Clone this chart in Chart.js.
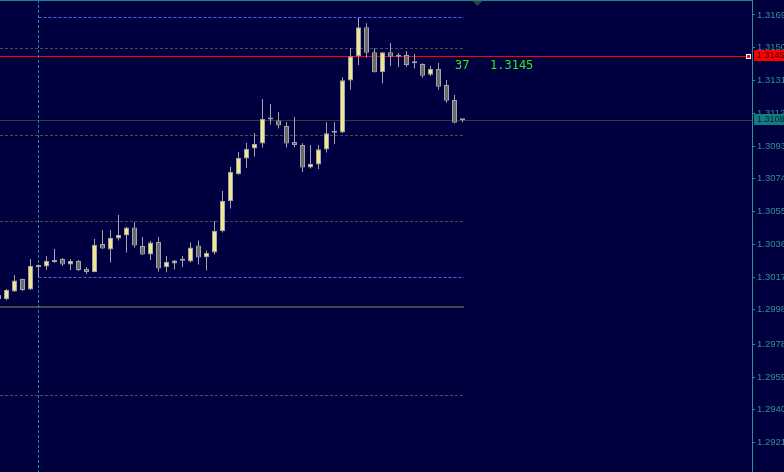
<!DOCTYPE html>
<html>
<head>
<meta charset="utf-8">
<script src="https://cdn.jsdelivr.net/npm/chart.js@4.4.0/dist/chart.umd.min.js"></script>
<style>
  html, body { margin: 0; padding: 0; background: #000040; overflow: hidden; }
  canvas { display: block; }
</style>
</head>
<body>
<canvas id="chart" width="784" height="472"></canvas>
<script>
// bar index of the first candle (the one cut at the left edge)
const firstBar = -1;
const opens = [
  1.30066, 1.30043, 1.30086, 1.30159, 1.30098, 1.30226, 1.30231, 1.30267, 1.30275, 1.30243,
  1.30263, 1.30217, 1.30199, 1.30362, 1.30330, 1.30394, 1.30411, 1.30458, 1.30350, 1.30301,
  1.30373, 1.30226, 1.30249, 1.30266, 1.30260, 1.30353, 1.30285, 1.30313, 1.30437, 1.30611,
  1.30768, 1.30858, 1.30916, 1.30945, 1.31084, 1.31078, 1.31046, 1.30953, 1.30936, 1.30806,
  1.30823, 1.30910, 1.31007, 1.31009, 1.31310, 1.31450, 1.31619, 1.31474, 1.31358, 1.31474,
  1.31456, 1.31458, 1.31410, 1.31406, 1.31344, 1.31377, 1.31284, 1.31197, 1.31080
];
const highs = [
  1.30072, 1.30101, 1.30182, 1.30162, 1.30275, 1.30243, 1.30292, 1.30333, 1.30281, 1.30275,
  1.30269, 1.30228, 1.30391, 1.30443, 1.30443, 1.30530, 1.30461, 1.30489, 1.30402, 1.30379,
  1.30402, 1.30292, 1.30269, 1.30292, 1.30371, 1.30382, 1.30324, 1.30495, 1.30669, 1.30808,
  1.30895, 1.30948, 1.31006, 1.31203, 1.31174, 1.31127, 1.31069, 1.31098, 1.30946, 1.30936,
  1.30936, 1.31068, 1.31068, 1.31329, 1.31499, 1.31677, 1.31642, 1.31497, 1.31476, 1.31528,
  1.31470, 1.31481, 1.31464, 1.31410, 1.31394, 1.31412, 1.31313, 1.31226, 1.31085
];
const lows = [
  1.30037, 1.30037, 1.30083, 1.30089, 1.30095, 1.30170, 1.30211, 1.30252, 1.30234, 1.30211,
  1.30205, 1.30188, 1.30197, 1.30333, 1.30255, 1.30382, 1.30313, 1.30342, 1.30298, 1.30269,
  1.30202, 1.30197, 1.30214, 1.30228, 1.30255, 1.30243, 1.30208, 1.30301, 1.30429, 1.30568,
  1.30765, 1.30803, 1.30869, 1.30922, 1.31055, 1.31032, 1.30922, 1.30923, 1.30779, 1.30800,
  1.30797, 1.30893, 1.30942, 1.31006, 1.31257, 1.31400, 1.31442, 1.31357, 1.31294, 1.31392,
  1.31388, 1.31390, 1.31379, 1.31326, 1.31336, 1.31257, 1.31181, 1.31062, 1.31068
];
const closes = [
  1.30043, 1.30095, 1.30150, 1.30095, 1.30234, 1.30240, 1.30263, 1.30257, 1.30243, 1.30263,
  1.30211, 1.30199, 1.30356, 1.30336, 1.30397, 1.30414, 1.30458, 1.30353, 1.30301, 1.30371,
  1.30220, 1.30257, 1.30266, 1.30264, 1.30342, 1.30284, 1.30310, 1.30437, 1.30611, 1.30779,
  1.30861, 1.30913, 1.30942, 1.31087, 1.31084, 1.31049, 1.30945, 1.30936, 1.30806, 1.30826,
  1.30911, 1.31004, 1.31007, 1.31311, 1.31450, 1.31619, 1.31471, 1.31358, 1.31474, 1.31448,
  1.31448, 1.31400, 1.31410, 1.31338, 1.31377, 1.31274, 1.31193, 1.31065, 1.31080
];

const yTickLabels = ['1.3169', '1.3150', '1.3131', '1.3112', '1.3093', '1.3074', '1.3055',
  '1.3036', '1.3017', '1.2998', '1.2978', '1.2959', '1.2940', '1.2921'];

const roundLevels = [1.31499, 1.30994, 1.30495, 1.29484]; // dashed grey
const solidLevel = 1.29994;
const dayHigh = 1.31678;
const dayLow = 1.30170;
const daySeparatorBar = 4;
const askPrice = 1.3145;
const bidPrice = 1.3108;
const timerText = '37';

// price window and bar window of the terminal
const yMin = 1.29039, yMax = 1.31777;
const xMin = -0.8125, xMax = 93.1875;

const TEAL = '#2f9292';
const WICK = '#a4a4a4';

const wickData = highs.map((h, i) => ({ x: firstBar + i, y: [lows[i], h] }));
const bodyData = opens.map((o, i) => ({ x: firstBar + i, y: [o, closes[i]] }));
const bodyColors = opens.map((o, i) => closes[i] > o ? '#efe794' : '#6a6a6a');

const lastBar = firstBar + opens.length - 1;

const overlay = {
  id: 'overlay',
  beforeDatasetsDraw(chart) {
    const { ctx, chartArea: a, scales: { x, y } } = chart;
    const py = v => Math.round(y.getPixelForValue(v)) + 0.5;
    const endX = Math.round(x.getPixelForValue(lastBar)) + 1;
    const sepX = Math.floor(x.getPixelForValue(daySeparatorBar)) + 0.5;
    ctx.save();
    ctx.lineWidth = 1;

    // top border
    ctx.strokeStyle = '#158585';
    ctx.beginPath(); ctx.moveTo(a.left, 0.5); ctx.lineTo(a.right, 0.5); ctx.stroke();

    // round levels
    ctx.setLineDash([3, 2]);
    ctx.strokeStyle = '#4c4c46';
    roundLevels.forEach(v => {
      ctx.beginPath(); ctx.moveTo(a.left, py(v)); ctx.lineTo(endX, py(v)); ctx.stroke();
    });

    // day high / low
    ctx.strokeStyle = '#4466ee';
    [dayHigh, dayLow].forEach(v => {
      ctx.beginPath(); ctx.moveTo(sepX, py(v)); ctx.lineTo(endX, py(v)); ctx.stroke();
    });
    ctx.setLineDash([]);

    // 1.3000 solid
    ctx.strokeStyle = '#474747';
    ctx.lineWidth = 2;
    const sy = Math.round(y.getPixelForValue(solidLevel));
    ctx.beginPath(); ctx.moveTo(a.left, sy); ctx.lineTo(endX, sy); ctx.stroke();
    ctx.lineWidth = 1;

    // bid line
    ctx.strokeStyle = '#3a3a2c';
    ctx.beginPath(); ctx.moveTo(a.left, py(bidPrice)); ctx.lineTo(a.right, py(bidPrice)); ctx.stroke();

    // ask line
    ctx.strokeStyle = '#ff0000';
    ctx.beginPath(); ctx.moveTo(a.left, py(askPrice)); ctx.lineTo(a.right - 6, py(askPrice)); ctx.stroke();

    // day separator
    ctx.setLineDash([3, 2]);
    ctx.strokeStyle = '#009a9a';
    ctx.beginPath(); ctx.moveTo(sepX, a.top); ctx.lineTo(sepX, a.bottom); ctx.stroke();
    ctx.restore();
  },
  afterDraw(chart) {
    const { ctx, chartArea: a, scales: { x, y } } = chart;
    const askY = Math.round(y.getPixelForValue(askPrice));
    const bidY = Math.round(y.getPixelForValue(bidPrice));
    const lastX = x.getPixelForValue(lastBar);
    ctx.save();

    // ask marker
    ctx.fillStyle = '#ffffff';
    ctx.fillRect(a.right - 6, askY - 2, 5, 5);
    ctx.fillStyle = '#ff0000';
    ctx.fillRect(a.right - 5, askY - 1, 3, 3);

    // price boxes on the axis
    ctx.font = '9px "Liberation Sans"';
    ctx.textBaseline = 'middle';
    ctx.fillStyle = '#ff0000';
    ctx.fillRect(a.right + 2, askY - 6, 40, 11);
    ctx.fillStyle = '#3a0000';
    ctx.fillText(askPrice.toFixed(4), a.right + 5, askY);
    ctx.fillStyle = '#137c7c';
    ctx.fillRect(a.right + 2, bidY - 6, 40, 11);
    ctx.fillStyle = '#00203a';
    ctx.fillText(bidPrice.toFixed(4), a.right + 5, bidY);

    // timer and price text
    ctx.font = '12px "DejaVu Sans Mono"';
    ctx.textBaseline = 'alphabetic';
    ctx.fillStyle = '#22ee22';
    ctx.fillText(timerText, lastX - 7.5, askY + 13);
    ctx.fillText(askPrice.toFixed(4), lastX + 27.5, askY + 13);

    // chart shift marker
    ctx.fillStyle = '#3c3c3c';
    ctx.beginPath();
    ctx.moveTo(lastX + 10, 1); ctx.lineTo(lastX + 20, 1); ctx.lineTo(lastX + 15, 6);
    ctx.closePath(); ctx.fill();
    ctx.restore();
  }
};

new Chart(document.getElementById('chart'), {
  type: 'bar',
  data: {
    datasets: [
      {
        // wicks, drawn underneath the bodies
        data: wickData,
        order: 2,
        backgroundColor: WICK,
        borderWidth: 0,
        grouped: false,
        maxBarThickness: 1,
        inflateAmount: 0
      },
      {
        data: bodyData,
        order: 1,
        backgroundColor: bodyColors,
        borderColor: WICK,
        borderWidth: 1,
        borderSkipped: false,
        grouped: false,
        maxBarThickness: 5,
        minBarLength: 2,
        inflateAmount: 0
      }
    ]
  },
  plugins: [overlay],
  options: {
    responsive: false,
    animation: false,
    layout: { padding: 0 },
    plugins: { legend: { display: false }, tooltip: { enabled: false } },
    scales: {
      x: {
        type: 'linear',
        min: xMin,
        max: xMax,
        offset: false,
        display: false
      },
      y: {
        type: 'linear',
        position: 'right',
        min: yMin,
        max: yMax,
        afterBuildTicks: (scale) => {
          scale.ticks = yTickLabels.map(s => ({ value: parseFloat(s) }));
        },
        afterFit: (scale) => {
          scale.width = 32;
          scale.paddingTop = 0;
          scale.paddingBottom = 0;
        },
        grid: { drawOnChartArea: false, drawTicks: true, tickLength: 3, color: TEAL },
        border: { display: true, color: TEAL },
        ticks: {
          color: TEAL,
          padding: 2,
          font: { family: 'Liberation Sans', size: 9.5 },
          callback: (v) => Number(v).toFixed(4)
        }
      }
    }
  }
});
</script>
</body>
</html>
